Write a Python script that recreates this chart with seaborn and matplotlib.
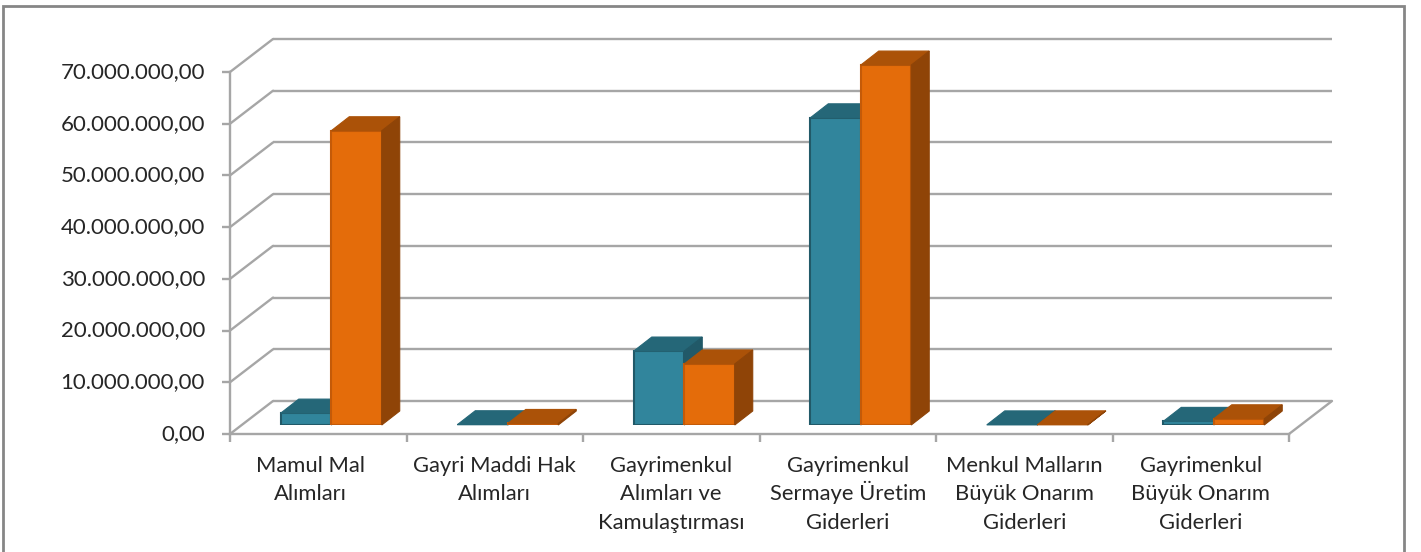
import pandas as pd
import matplotlib
matplotlib.use("Agg")
import matplotlib.pyplot as plt
import seaborn as sns
from matplotlib.patches import Polygon, Rectangle
from matplotlib.transforms import Affine2D, IdentityTransform

categories = ["Mamul Mal\nAlımları", "Gayri Maddi Hak\nAlımları", "Gayrimenkul\nAlımları ve\nKamulaştırması",
              "Gayrimenkul\nSermaye Üretim\nGiderleri", "Menkul Malların\nBüyük Onarım\nGiderleri",
              "Gayrimenkul\nBüyük Onarım\nGiderleri"]
series_a = [2300000, 50000, 14300000, 59400000, 20000, 700000]
series_b = [56900000, 300000, 11800000, 69600000, 30000, 1200000]
y_ticks = [0, 10000000, 20000000, 30000000, 40000000, 50000000, 60000000, 70000000]
y_labels = ["0,00", "10.000.000,00", "20.000.000,00", "30.000.000,00", "40.000.000,00",
            "50.000.000,00", "60.000.000,00", "70.000.000,00"]

W, H = 1421, 552
GRID = "#a6a6a6"
TEXT = "#262626"
# wall depth and bar depth/offset, in pixels
WALL_DX, WALL_DY = 43, 33
BAR_OFF_X, BAR_OFF_Y = 13, 9
BAR_DX, BAR_DY = 18, 14

sns.set_theme(style="white")
plt.rcParams["font.family"] = ["Lato", "DejaVu Sans"]

df = pd.DataFrame({
    "kategori": categories * 2,
    "deger": series_a + series_b,
    "seri": ["A"] * 6 + ["B"] * 6,
})

fig = plt.figure(figsize=(W / 100, H / 100), dpi=100, facecolor="white")

# outer border, runs off the bottom of the image
fig.add_artist(Rectangle((3 / W, -0.05), 1401 / W, (H - 6) / H + 0.05, transform=fig.transFigure,
                         fill=False, edgecolor="#868686", linewidth=2))


def box(left, top, right, bottom):
    return [left / W, (H - bottom) / H, (right - left) / W, (bottom - top) / H]


# front plane carries the axes, the bar plane sits a little inside the depth
ax = fig.add_axes(box(230, 72, 1289, 434))
ax_bars = fig.add_axes(box(230 + BAR_OFF_X, 72 - BAR_OFF_Y, 1289 + BAR_OFF_X, 434 - BAR_OFF_Y))
ax_bars.patch.set_alpha(0)

sns.barplot(data=df, x="kategori", y="deger", hue="seri", order=categories, hue_order=["A", "B"],
            palette=["#31859c", "#e46c0a"], width=0.572, gap=0, legend=False, saturation=1,
            ax=ax_bars)
for a in (ax, ax_bars):
    a.set_xlim(-0.5, 5.5)
    a.set_ylim(0, 70000000)
ax_bars.axis("off")

# 3d look for the bars, built from the bars seaborn drew
styles = [("#215968", "#256778", "#215968"), ("#c45a08", "#ab5208", "#8f4407")]
for i, container in enumerate(ax_bars.containers):
    edge, top_col, side_col = styles[i]
    for bar in container:
        bar.set_edgecolor(edge)
        bar.set_linewidth(1.5)
        bar.set_zorder(3 + i)
        x0, y0 = ax_bars.transData.transform((bar.get_x(), 0))
        x1, y1 = ax_bars.transData.transform((bar.get_x() + bar.get_width(), bar.get_height()))
        top = [(x0, y1), (x1, y1), (x1 + BAR_DX, y1 + BAR_DY), (x0 + BAR_DX, y1 + BAR_DY)]
        side = [(x1, y0), (x1 + BAR_DX, y0 + BAR_DY), (x1 + BAR_DX, y1 + BAR_DY), (x1, y1)]
        for pts, col in ((top, top_col), (side, side_col)):
            ax_bars.add_patch(Polygon(pts, closed=True, facecolor=col, edgecolor=col, linewidth=0.8,
                                      transform=IdentityTransform(), zorder=3 + i, clip_on=False))

# back wall and side wall lines
back = ax.transData + Affine2D().translate(WALL_DX, WALL_DY)
ax.hlines(y_ticks, -0.5, 5.5, color=GRID, linewidth=1.7, transform=back, clip_on=False, zorder=1)
for t in y_ticks:
    px, py = ax.transData.transform((-0.5, t))
    ax.plot([px, px + WALL_DX], [py, py + WALL_DY], color=GRID, linewidth=1.7,
            transform=IdentityTransform(), clip_on=False, zorder=1)
px, py = ax.transData.transform((5.5, 0))
ax.plot([px, px + WALL_DX], [py, py + WALL_DY], color=GRID, linewidth=1.7,
        transform=IdentityTransform(), clip_on=False, zorder=1)

sns.despine(ax=ax, top=True, right=True)
for name in ("left", "bottom"):
    ax.spines[name].set_color(GRID)
    ax.spines[name].set_linewidth(1.7)

ax.set_yticks(y_ticks)
ax.set_yticklabels(y_labels, fontsize=16, color=TEXT)
ax.set_xticks([x - 0.5 for x in range(7)])
ax.set_xticklabels([])
ax.tick_params(axis="both", length=6, width=1.7, color=GRID, left=True, bottom=True)
ax.tick_params(axis="y", pad=12)
ax.set_xlabel("")
ax.set_ylabel("")
for label in ax.get_yticklabels():
    label.set_transform(label.get_transform() + Affine2D().translate(0, 2))

# category labels, one text per line so the line step stays even (Ü makes matplotlib's step uneven)
# the first one is pulled left as in the original
for i, lab in enumerate(categories):
    shift = -8 if i == 0 else 0
    for j, line in enumerate(lab.split("\n")):
        trans = ax.get_xaxis_transform() + Affine2D().translate(shift, -38 - 28.5 * j)
        ax.text(i, 0, line, transform=trans, ha="center", va="baseline", fontsize=15.8, color=TEXT,
                clip_on=False)

fig.savefig("out.png", dpi=100)
